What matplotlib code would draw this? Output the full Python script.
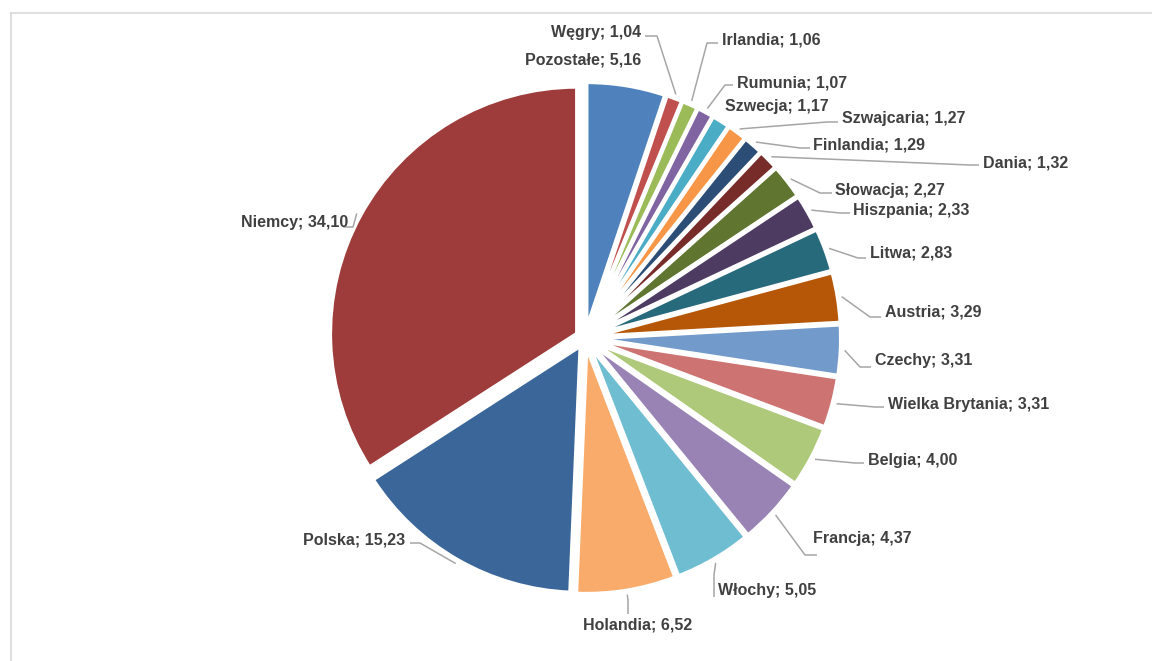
import matplotlib.pyplot as plt
from matplotlib.lines import Line2D
import numpy as np

# Udział krajów (%), kolejność zgodnie z ruchem wskazówek zegara od góry
countries = ['Pozostałe', 'Węgry', 'Irlandia', 'Rumunia', 'Szwecja', 'Szwajcaria',
             'Finlandia', 'Dania', 'Słowacja', 'Hiszpania', 'Litwa', 'Austria',
             'Czechy', 'Wielka Brytania', 'Belgia', 'Francja', 'Włochy', 'Holandia',
             'Polska', 'Niemcy']
shares = [5.16, 1.04, 1.06, 1.07, 1.17, 1.27, 1.29, 1.32, 2.27, 2.33, 2.83, 3.29,
          3.31, 3.31, 4.00, 4.37, 5.05, 6.52, 15.23, 34.10]

colors = ['#4F81BD', '#C0504D', '#9BBB59', '#8064A2', '#4BACC6', '#F79646',
          '#2C4D75', '#772C2A', '#5F7530', '#4D3B62', '#276A7C', '#B65708',
          '#729ACA', '#CD7371', '#AFC97A', '#9983B5', '#6FBDD1', '#F9AB6B',
          '#3A6699', '#9D3C3A']

# label placement in pixels (y from top): text x, text y, alignment,
# leader knee and tip (None = no leader)
label_pos = [
    (641, 60, 'right', None, None),
    (641, 33, 'right', (657, 36), (645, 36)),
    (722, 40, 'left', (707, 43), (718, 43)),
    (737, 83, 'left', (725, 85), (733, 85)),
    (725, 107, 'left', None, None),
    (842, 118, 'left', (827, 122), (838, 122)),
    (813, 145, 'left', (800, 148), (810, 148)),
    (983, 163, 'left', (970, 165), (979, 165)),
    (835, 190, 'left', (820, 193), (832, 193)),
    (853, 211, 'left', (840, 213), (850, 213)),
    (870, 253, 'left', (858, 258), (866, 258)),
    (885, 312, 'left', (870, 317), (881, 317)),
    (875, 360, 'left', (860, 367), (871, 367)),
    (888, 404, 'left', (875, 407), (884, 407)),
    (868, 460, 'left', (855, 463), (864, 463)),
    (813, 538, 'left', (805, 555), (817, 555)),
    (718, 591, 'left', (714, 575), (714, 597)),
    (638, 625, 'center', (628, 600), (628, 614)),
    (405, 540, 'right', (420, 543), (410, 543)),
    (348, 222, 'right', (353, 227), (343, 227)),
]

W, H = 1152, 661
cx, cy = 585, 338
radius = 247
gap = 9

def px(x, y):
    return x, H - y

fig = plt.figure(figsize=(W / 100, H / 100), dpi=100)
ax = fig.add_axes([0, 0, 1, 1])

ax.pie(shares, colors=colors, startangle=90, counterclock=False,
       center=px(cx, cy), radius=radius, explode=[gap] * len(shares),
       wedgeprops=dict(edgecolor='white', linewidth=2.9))

ax.set_xlim(0, W)
ax.set_ylim(0, H)
ax.set_aspect('equal')
ax.axis('off')

total = sum(shares)
cum = np.cumsum([0] + shares[:-1])
for name, v, c0, (tx, ty, ha, knee, tip) in zip(countries, shares, cum, label_pos):
    txt = f"{name}; {v:.2f}".replace('.', ',')
    ax.text(*px(tx, ty), txt, ha=ha, va='center', fontsize=11.5,
            fontweight='bold', color='#404040', family='Liberation Sans')
    if knee is None:
        continue
    theta = np.deg2rad(90 - 360 * (c0 + v / 2) / total)
    r = radius + gap + 4
    ax0 = cx + r * np.cos(theta)
    ay0 = cy - r * np.sin(theta)
    xs, ys = zip(*[px(ax0, ay0), px(*knee), px(*tip)])
    ax.plot(xs, ys, color='#A6A6A6', lw=1.1, solid_capstyle='butt')

# chart area border (cut off on the right and bottom)
fig.add_artist(Line2D([10.5 / W, 10.5 / W], [0, 1 - 12.5 / H],
                      color='#D9D9D9', lw=1.2, transform=fig.transFigure))
fig.add_artist(Line2D([10.5 / W, 1], [1 - 12.5 / H, 1 - 12.5 / H],
                      color='#D9D9D9', lw=1.2, transform=fig.transFigure))

fig.savefig('out.png', dpi=100, facecolor='white')
